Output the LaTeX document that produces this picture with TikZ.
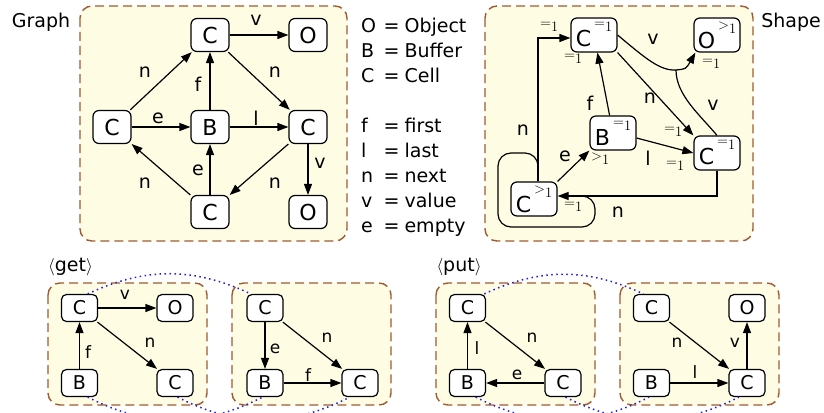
\documentclass[tikz,border=0pt]{standalone}
\usepackage{fontspec}
\usetikzlibrary{arrows.meta}

\newfontfamily\dvs{DejaVu Sans}
\definecolor{panelbg}{RGB}{254,253,228}
\definecolor{panelbrd}{RGB}{160,90,50}
\definecolor{corrblue}{RGB}{30,30,220}

% multiplicity marks
\newcommand{\mltp}[1]{$#1$\raisebox{-4pt}{$1$}}
\newcommand{\shp}[2]{#1\kern3pt\raisebox{19pt}{\fontsize{15.5}{16}\selectfont\mltp{#2}}}

\tikzset{
  panel/.style={draw=panelbrd, fill=panelbg, line width=1.4pt, dash pattern=on 9pt off 5pt, rounded corners=12pt},
  obj/.style={draw, fill=white, line width=1.2pt, rounded corners=6pt, minimum width=38pt, minimum height=33pt, inner sep=1pt, font=\dvs\fontsize{22}{24}\selectfont},
  shpobj/.style={obj, minimum width=46pt, minimum height=34pt},
  smallobj/.style={obj, rounded corners=5pt, minimum width=36pt, minimum height=27pt, font=\dvs\fontsize{19}{22}\selectfont},
  lbl/.style={inner sep=0pt, font=\dvs\fontsize{19}{25}\selectfont},
  slbl/.style={inner sep=0pt, font=\dvs\fontsize{17}{20}\selectfont},
  mult/.style={inner sep=0pt, anchor=base west, font=\fontsize{15.5}{16}\selectfont},
  link/.style={->, line width=1.2pt},
  corr/.style={draw=corrblue, line width=1.5pt, dash pattern=on 1.5pt off 3.5pt},
  >={Triangle[length=11pt,width=8pt]}
}

\begin{document}
\begin{tikzpicture}[x=1pt,y=1pt]
  \useasboundingbox (0,0) rectangle (824,-412);
  \clip (0,0) rectangle (824,-412);

  % Panels
  \draw[panel] (80,-6) rectangle (347,-241);
  \draw[panel] (485,-6) rectangle (753,-241);
  \draw[panel] (48,-283) rectangle (207,-405);
  \draw[panel] (232,-283) rectangle (391,-405);
  \draw[panel] (436,-283) rectangle (595,-405);
  \draw[panel] (620,-283) rectangle (779,-405);

  % Titles
  \node[lbl] (graph) at (41,-22) {Graph};
  \node[lbl] (shape) at (791,-22) {Shape};
  \node[lbl] (get) at (70.5,-267) {$\langle$get$\rangle$};
  \node[lbl] (put) at (459,-267) {$\langle$put$\rangle$};

  % Graph nodes
  \node[obj] (G1) at (210,-35) {C};
  \node[obj] (G2) at (308,-35) {O};
  \node[obj] (G3) at (112,-127) {C};
  \node[obj] (G4) at (210,-127) {B};
  \node[obj] (G5) at (308,-127) {C};
  \node[obj] (G6) at (210,-212) {C};
  \node[obj] (G7) at (308,-212) {O};

  % Graph edges
  \draw[link] (G3) -- (G1);
  \draw[link] (G1) -- (G2);
  \draw[link] (G1) -- (G5);
  \draw[link] (G4) -- (G1);
  \draw[link] (G3) -- (G4);
  \draw[link] (G4) -- (G5);
  \draw[link] (G6) -- (G4);
  \draw[link] (G5) -- (G6);
  \draw[link] (G6) -- (G3);
  \draw[link] (G5) -- (G7);

  % Graph labels
  \node[lbl] at (145,-72) {n};
  \node[lbl] at (256,-20) {v};
  \node[lbl] at (275,-72) {n};
  \node[lbl] at (198,-84) {f};
  \node[lbl] at (158,-118) {e};
  \node[lbl] at (256,-118) {l};
  \node[lbl] at (198,-170) {e};
  \node[lbl] at (145,-183) {n};
  \node[lbl] at (275,-183) {n};
  \node[lbl] at (320,-163) {v};

  % Key
  \node[lbl, anchor=north west] (key) at (361,-14.5) {%
    \begin{tabular}{@{}l@{\hspace{7.5pt}}l@{\hspace{5pt}}l@{}}
      O & = & Object\\
      B & = & Buffer\\
      C & = & Cell\\[25pt]
      f & = & first\\
      l & = & last\\
      n & = & next\\
      v & = & value\\
      e & = & empty
    \end{tabular}};

  % Shape nodes
  \node[shpobj] (S1) at (594,-35) {\shp{C}{=}};
  \node[shpobj] (S2) at (717,-35) {\shp{O}{>}};
  \node[shpobj] (S3) at (613,-133) {\shp{B}{=}};
  \node[shpobj] (S4) at (717,-153) {\shp{C}{=}};
  \node[shpobj] (S5) at (534,-199) {\shp{C}{>}};
  \coordinate (L1) at (498,-153);
  \coordinate (L2) at (595,-227);
  \coordinate (V) at (676,-70);

  % Shape edges
  \draw[link] ([xshift=4pt]S5.north) |- ([yshift=-3pt]S1.west);
  \draw[line width=1.2pt, rounded corners=13pt] ([xshift=4pt]S5.north) |- (L1) |- (L2) |- ([xshift=20pt,yshift=3pt]S5.east);
  \draw[link] (S4.south) |- ([yshift=3pt]S5.east);
  \draw[link] (S5.north east) -- (S3.south west);
  \draw[link] (S3) -- (S1);
  \draw[link] ([yshift=-5pt]S3.east) -- (S4.west);
  \draw[link] (S1.south east) -- (S4.north west);
  \draw[line width=1.2pt] (S1.east) .. controls (645,-58) and (660,-71) .. (V);
  \draw[line width=1.2pt] (S4.north) .. controls (700,-115) and (676,-95) .. (V);
  \draw[link] (V) .. controls (686,-69) .. ([xshift=2pt]S2.south west);

  % Shape labels
  \node[lbl] at (653,-39) {v};
  \node[lbl] at (713,-105) {v};
  \node[lbl] at (650,-98) {n};
  \node[lbl] at (590,-103) {f};
  \node[lbl] at (648,-158) {l};
  \node[lbl] at (565,-156) {e};
  \node[lbl] at (523,-130) {n};
  \node[lbl] at (618,-212) {n};
  \node[mult] at (540,-28) {\mltp{=}};
  \node[mult] at (564,-59.5) {\mltp{=}};
  \node[mult] at (702,-64) {\mltp{=}};
  \node[mult] at (591,-160.5) {\mltp{>}};
  \node[mult] at (664,-132) {\mltp{=}};
  \node[mult] at (666,-166) {\mltp{=}};
  \node[mult] at (564,-207) {\mltp{=}};

  % get / put nodes
  \node[smallobj] (A1) at (79.5,-308) {C};
  \node[smallobj] (A2) at (175,-308) {O};
  \node[smallobj] (A3) at (79.5,-383) {B};
  \node[smallobj] (A4) at (175,-383) {C};
  \node[smallobj] (B1) at (265,-308) {C};
  \node[smallobj] (B2) at (265,-383) {B};
  \node[smallobj] (B3) at (360,-383) {C};
  \node[smallobj] (C1) at (467.5,-308) {C};
  \node[smallobj] (C2) at (467.5,-383) {B};
  \node[smallobj] (C3) at (563,-383) {C};
  \node[smallobj] (D1) at (651.5,-308) {C};
  \node[smallobj] (D2) at (747,-308) {O};
  \node[smallobj] (D3) at (651.5,-383) {B};
  \node[smallobj] (D4) at (747,-383) {C};

  % get / put edges
  \draw[link] (A1) -- (A2);
  \draw[link] (A3) -- (A1);
  \draw[link] (A1) -- (A4);
  \draw[link] (B1) -- (B2);
  \draw[link] (B1) -- (B3);
  \draw[link] (B2) -- (B3);
  \draw[link] (C2) -- (C1);
  \draw[link] (C1) -- (C3);
  \draw[link] (C3) -- (C2);
  \draw[link] (D1) -- (D4);
  \draw[link] (D3) -- (D4);
  \draw[link] (D4) -- (D2);

  % get / put labels
  \node[slbl] at (125,-295) {v};
  \node[slbl] at (88,-352) {f};
  \node[slbl] at (150,-343) {n};
  \node[slbl] at (275,-349) {e};
  \node[slbl] at (327,-338) {n};
  \node[slbl] at (308,-375) {f};
  \node[slbl] at (477,-348) {l};
  \node[slbl] at (532,-338) {n};
  \node[slbl] at (517,-375) {e};
  \node[slbl] at (677,-343) {n};
  \node[slbl] at (695,-372) {l};
  \node[slbl] at (735,-343) {v};

  % Matching
  \draw[corr] (A1.60) to[out=25,in=155] (B1.135);
  \draw[corr] (A3.-60) to[out=-27,in=-153] (B2.-100);
  \draw[corr] (A4.-80) to[out=-27,in=-153] (B3.-126);
  \draw[corr] (C1.40) to[out=25,in=155] (D1.120);
  \draw[corr] (C2.-60) to[out=-27,in=-153] (D3.-100);
  \draw[corr] (C3.-80) to[out=-27,in=-153] (D4.-120);
\end{tikzpicture}
\end{document}
